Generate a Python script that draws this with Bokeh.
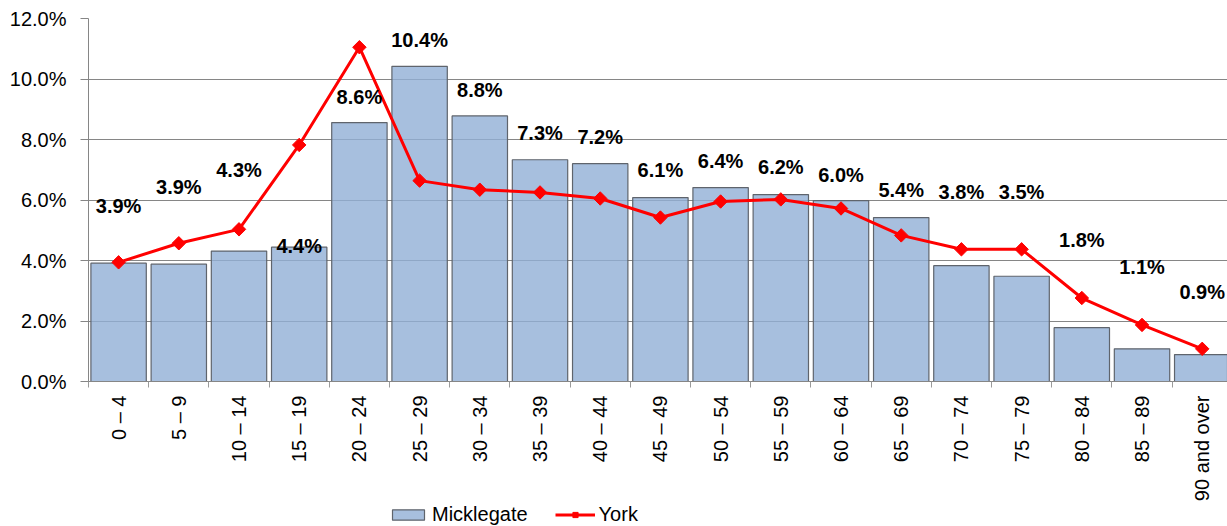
import numpy as np
from bokeh.plotting import figure
from bokeh.layouts import column
from bokeh.models import (Range1d, FixedTicker, PrintfTickFormatter, ColumnDataSource,
                          Legend, LegendItem)
from bokeh.core.properties import value
from bokeh.embed import file_html
from bokeh.resources import INLINE

categories = ["0 \u2013 4", "5 \u2013 9", "10 \u2013 14", "15 \u2013 19", "20 \u2013 24",
              "25 \u2013 29", "30 \u2013 34", "35 \u2013 39", "40 \u2013 44", "45 \u2013 49",
              "50 \u2013 54", "55 \u2013 59", "60 \u2013 64", "65 \u2013 69", "70 \u2013 74",
              "75 \u2013 79", "80 \u2013 84", "85 \u2013 89", "90 and over"]
micklegate = [3.91, 3.88, 4.31, 4.44, 8.56, 10.42, 8.78, 7.33, 7.20, 6.08, 6.41, 6.18,
              5.98, 5.42, 3.83, 3.48, 1.78, 1.08, 0.89]
york = [3.94, 4.57, 5.03, 7.82, 11.05, 6.64, 6.34, 6.25, 6.05, 5.42, 5.95, 6.02,
        5.72, 4.83, 4.37, 4.37, 2.76, 1.87, 1.08]
# vertical placement of the bar value labels (in % units), as placed in the original
label_y = [5.79, 6.44, 7.0, 4.47, 9.40, 11.28, 9.63, 8.22, 8.09, 7.0, 7.30, 7.10,
           6.84, 6.34, 6.28, 6.28, 4.67, 3.78, 2.96]
y_ticks = [0, 2, 4, 6, 8, 10, 12]

FONT = "Liberation Sans"
BAR_FILL = "#91AFD6"
BAR_LINE = "#5F646C"
RED = "#FF0000"

x = list(range(len(categories)))
src = ColumnDataSource(dict(x=x, mick=micklegate, york=york, ly=label_y,
                            lab=[f"{v:.1f}%" for v in micklegate]))

p = figure(width=1227, height=504, x_range=Range1d(-0.5, 18.42), y_range=Range1d(0, 12),
           output_backend="svg", toolbar_location=None,
           min_border_left=88, min_border_top=18, min_border_right=0, min_border_bottom=121)
p.outline_line_color = None

p.vbar(x="x", top="mick", width=0.92, source=src, fill_color=BAR_FILL,
       fill_alpha=0.8, line_color=BAR_LINE, line_width=1.2)
p.line(x="x", y="york", source=src, line_color=RED, line_width=3)
p.scatter(x="x", y="york", source=src, marker="square", angle=np.pi / 4, size=9.5,
          fill_color=RED, line_color=RED)
p.text(x="x", y="ly", text="lab", source=src, text_font=value(FONT),
       text_font_size="20px", text_font_style="bold", text_align="center",
       text_baseline="middle", text_color="black")

# x axis
xa = p.xaxis[0]
xa.ticker = FixedTicker(ticks=x, minor_ticks=[i - 0.5 for i in range(len(categories) + 1)])
xa.major_label_overrides = {i: c for i, c in enumerate(categories)}
xa.major_label_orientation = np.pi / 2
xa.major_tick_out = 0
xa.major_tick_in = 0
xa.minor_tick_out = 6
xa.minor_tick_in = 0
xa.minor_tick_line_color = "#9A9A9A"
xa.axis_line_color = "#868686"
xa.major_label_standoff = 8
xa.axis_label_standoff = 0
xa.major_label_text_font = FONT
xa.major_label_text_font_size = "20px"
xa.major_label_text_color = "black"

# y axis
ya = p.yaxis[0]
ya.ticker = FixedTicker(ticks=y_ticks)
ya.formatter = PrintfTickFormatter(format="%.1f%%")
ya.major_tick_out = 8
ya.major_tick_in = 0
ya.minor_tick_out = 0
ya.minor_tick_in = 0
ya.major_tick_line_color = "#868686"
ya.axis_line_color = "#868686"
ya.major_label_standoff = 14
ya.major_label_text_font = FONT
ya.major_label_text_font_size = "20px"
ya.major_label_text_color = "black"

p.xgrid.visible = False
p.ygrid.grid_line_color = "#868686"
p.ygrid.grid_line_width = 1

# legend strip below the chart (same data, view range set so the marks stay out of sight)
lf = figure(width=1227, height=22, x_range=Range1d(-0.5, 18.42), y_range=Range1d(100, 101),
            output_backend="svg", toolbar_location=None, x_axis_type=None,
            y_axis_type=None, min_border=0)
lf.outline_line_color = None
lf.grid.visible = False
lb = lf.vbar(x="x", top="mick", width=0.92, source=src, fill_color=BAR_FILL,
             fill_alpha=0.8, line_color=BAR_LINE, line_width=1.2)
ll = lf.line(x="x", y="york", source=src, line_color=RED, line_width=3)
ls = lf.scatter(x="x", y="york", source=src, marker="square", angle=np.pi / 4, size=9.5,
                fill_color=RED, line_color=RED)
legend = Legend(items=[LegendItem(label="Micklegate", renderers=[lb]),
                       LegendItem(label="York", renderers=[ll, ls])],
                orientation="horizontal", location=(300, 0),
                glyph_width=40, glyph_height=13, label_height=22,
                label_standoff=4, spacing=27, padding=0, margin=0,
                border_line_color=None, background_fill_alpha=0,
                label_text_font=FONT, label_text_font_size="20px",
                label_text_color="black")
lf.add_layout(legend, "center")

layout = column(p, lf, spacing=0)
open("out.html", "w").write(file_html(layout, INLINE))
